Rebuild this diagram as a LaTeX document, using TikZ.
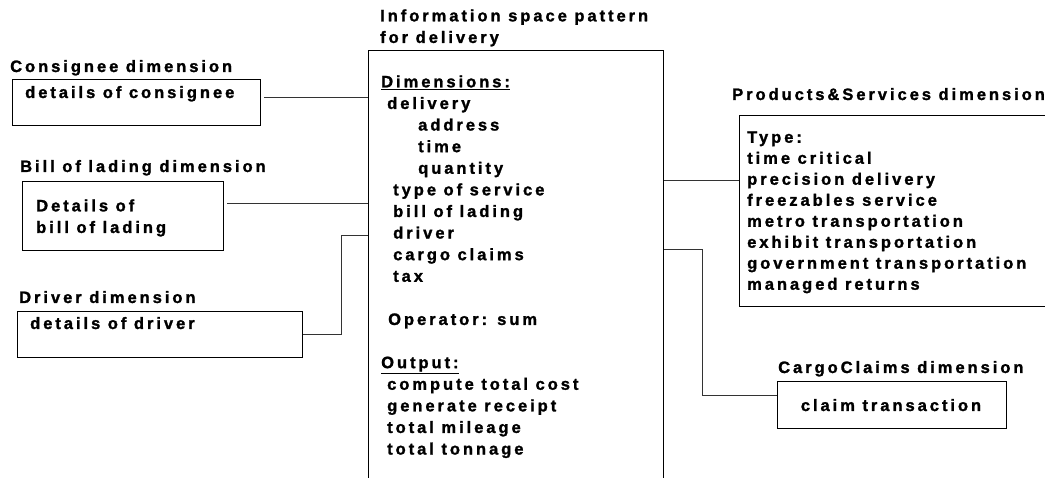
\documentclass[tikz,border=0pt]{standalone}
\usepackage{fontspec}
\setmainfont{Liberation Sans Bold}[LetterSpace=18,FakeBold=1.5]
\usetikzlibrary{positioning}

\begin{document}
\begin{tikzpicture}[x=1pt,y=-1pt,
  every node/.style={font=\fontsize{16.5}{21.6}\selectfont},
  dimbox/.style={draw,line width=1.4pt,rectangle,inner sep=0pt,anchor=north west},
  lbl/.style={inner sep=0pt,anchor=base west},
  txt/.style={inner sep=0pt,align=left,anchor=north west},
  link/.style={draw=black!80,line width=1pt}]
\useasboundingbox (0,0) rectangle (1045,478);
\clip (0,0) rectangle (1045,478);

% pattern in the middle
\node[txt] (title) at (380,9.2) {Information space pattern\\for delivery};
\node[dimbox,minimum width=295pt,minimum height=480pt] (main) at (368,50) {};
\node[txt] (mainT) at (381,75.2) {\underline{Dimensions:}\\
  \hspace{6pt}delivery\\
  \hspace{37pt}address\\
  \hspace{37pt}time\\
  \hspace{37pt}quantity\\
  \hspace{12pt}type of service\\
  \hspace{12pt}bill of lading\\
  \hspace{12pt}driver\\
  \hspace{12pt}cargo claims\\
  \hspace{12pt}tax\\ \\
  \hspace{7pt}Operator: sum\\ \\
  \underline{Output:}\\
  \hspace{6pt}compute total cost\\
  \hspace{6pt}generate receipt\\
  \hspace{6pt}total mileage\\
  \hspace{6pt}total tonnage};

% dimensions on the left
\node[lbl] (consL) at (10,72) {Consignee dimension};
\node[dimbox,minimum width=248pt,minimum height=46pt] (cons) at (12,79) {};
\node[lbl] (consT) at (25,98) {details of consignee};

\node[lbl] (billL) at (20,172) {Bill of lading dimension};
\node[dimbox,minimum width=201pt,minimum height=69pt] (bill) at (22,181) {};
\node[txt] (billT) at (36,199.2) {Details of\\bill of lading};

\node[lbl] (drvL) at (19,303) {Driver dimension};
\node[dimbox,minimum width=285pt,minimum height=46pt] (drv) at (17,311) {};
\node[lbl] (drvT) at (30,329) {details of driver};

% dimensions on the right
\node[lbl] (prodL) at (732,100) {Products\&Services dimension};
\node[dimbox,minimum width=320pt,minimum height=191pt] (prod) at (739,115) {};
\node[txt,font=\fontsize{16.5}{21}\selectfont] (prodT) at (747,131.2) {Type:\\
  time critical\\
  precision delivery\\
  freezables service\\
  metro transportation\\
  exhibit transportation\\
  government transportation\\
  managed returns};

\node[lbl] (cargoL) at (778,373) {CargoClaims dimension};
\node[dimbox,minimum width=229pt,minimum height=47pt] (cargo) at (777,381) {};
\node[anchor=base,inner sep=0pt] (cargoT) at (891,411) {claim transaction};

% connectors
\draw[link,shorten <=3pt] ([yshift=5pt]cons.east) -- ([yshift=5pt]cons.east -| main.west);
\draw[link,shorten <=3pt] ([yshift=12.5pt]bill.east) -- ([yshift=12.5pt]bill.east -| main.west);
\draw[link] (drv.east) -- ++(38,0) |- (main.west |- 0,236);
\draw[link] ([yshift=30.5pt]prod.west) -- ([yshift=30.5pt]prod.west -| main.east);
\draw[link] (main.east |- 0,250) -- ++(38,0) |- ([yshift=9.5pt]cargo.west);
\end{tikzpicture}
\end{document}
